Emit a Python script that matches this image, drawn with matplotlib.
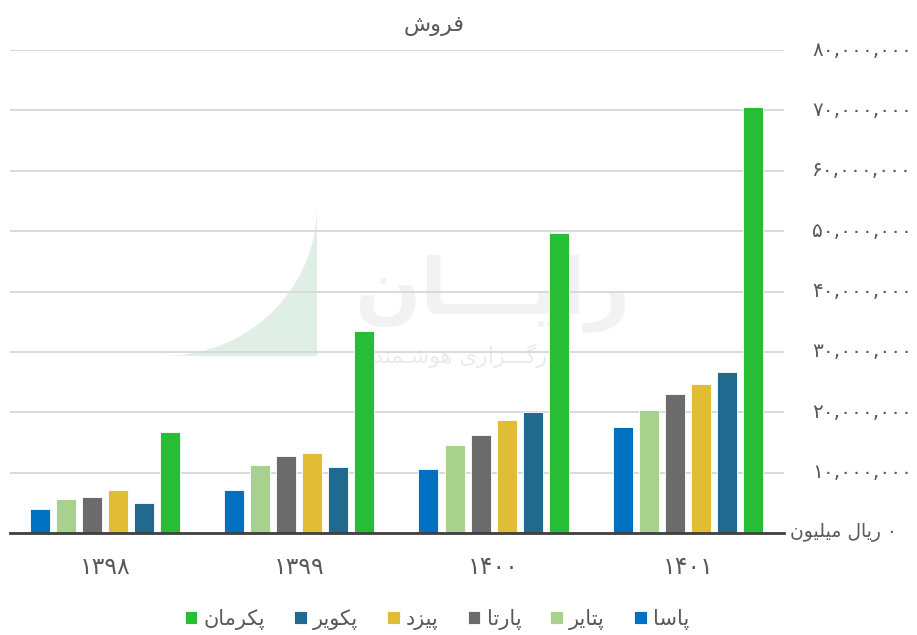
import numpy as np
import matplotlib
matplotlib.use('Agg')
import matplotlib.pyplot as plt
from matplotlib.transforms import blended_transform_factory

# data (values in rials)
years = ['۱۳۹۸', '۱۳۹۹', '۱۴۰۰', '۱۴۰۱']
series = ['پاسا', 'پتایر', 'پارتا', 'پیزد', 'پکویر', 'پکرمان']
pasa = [3.9e6, 7.2e6, 10.6e6, 17.6e6]
petayer = [5.7e6, 11.3e6, 14.5e6, 20.4e6]
parta = [6.0e6, 12.7e6, 16.2e6, 23.1e6]
peyazd = [7.2e6, 13.2e6, 18.7e6, 24.6e6]
pekavir = [4.9e6, 10.9e6, 20.0e6, 26.6e6]
pekerman = [16.8e6, 33.5e6, 49.7e6, 70.6e6]
values = [pasa, petayer, parta, peyazd, pekavir, pekerman]
colors = ['#0070C0', '#A9D18E', '#6B6B6E', '#E1BD36', '#216A8F', '#27BE35']
yticks = [0, 10e6, 20e6, 30e6, 40e6, 50e6, 60e6, 70e6, 80e6]

# matplotlib has no arabic shaping, so do it by hand
forms = {
    'ا': ('\uFE8D', '\uFE8E', None, None),
    'د': ('\uFEA9', '\uFEAA', None, None),
    'ر': ('\uFEAD', '\uFEAE', None, None),
    'ز': ('\uFEAF', '\uFEB0', None, None),
    'و': ('\uFEED', '\uFEEE', None, None),
    'پ': ('\uFB56', '\uFB57', '\uFB58', '\uFB59'),
    'ت': ('\uFE95', '\uFE96', '\uFE97', '\uFE98'),
    'س': ('\uFEB1', '\uFEB2', '\uFEB3', '\uFEB4'),
    'ش': ('\uFEB5', '\uFEB6', '\uFEB7', '\uFEB8'),
    'ف': ('\uFED1', '\uFED2', '\uFED3', '\uFED4'),
    'ک': ('\uFB8E', '\uFB8F', '\uFB90', '\uFB91'),
    'گ': ('\uFB92', '\uFB93', '\uFB94', '\uFB95'),
    'ل': ('\uFEDD', '\uFEDE', '\uFEDF', '\uFEE0'),
    'م': ('\uFEE1', '\uFEE2', '\uFEE3', '\uFEE4'),
    'ن': ('\uFEE5', '\uFEE6', '\uFEE7', '\uFEE8'),
    'ه': ('\uFEE9', '\uFEEA', '\uFEEB', '\uFEEC'),
    'ی': ('\uFBFC', '\uFBFD', '\uFBFE', '\uFBFF'),
    'ـ': ('\u0640', '\u0640', '\u0640', '\u0640'),
}


def fa(text):
    out = []
    n = len(text)
    for i, c in enumerate(text):
        f = forms.get(c)
        if f is None:
            out.append(c)
            continue
        prev = i > 0 and text[i - 1] in forms and forms[text[i - 1]][2] is not None
        nxt = i < n - 1 and text[i + 1] in forms and f[2] is not None
        if prev and nxt:
            out.append(f[3])
        elif prev:
            out.append(f[1])
        elif nxt:
            out.append(f[2])
        else:
            out.append(f[0])
    return ''.join(reversed(out))


def fa_num(v):
    s = '{:,}'.format(int(v))
    return s.translate(str.maketrans('0123456789', '۰۱۲۳۴۵۶۷۸۹'))


plt.rcParams['font.family'] = ['DejaVu Sans']
txt = '#595959'

fig = plt.figure(figsize=(9.17, 6.35), dpi=100)
ax = fig.add_axes([10 / 917, 102 / 635, 774 / 917, 483 / 635])
ax.patch.set_alpha(0)
ax.set_axisbelow(True)

# faint watermark logo behind the chart
th = np.linspace(0, np.pi / 2, 60)
wx = np.concatenate([164 + 153 * np.sin(th), [317, 164]]) / 917
wy = 1 - np.concatenate([206 + 150 * np.cos(th), [356, 356]]) / 635
ax.fill(wx, wy, transform=fig.transFigure, color='#DFEFE5', zorder=0.1,
        linewidth=0)
ax.text(492 / 917, 1 - 294 / 635, fa('رایـــان'), transform=fig.transFigure,
        ha='center', va='center', fontsize=56, fontweight='bold',
        color='#F2F2F2', zorder=0.1)
ax.text(472 / 917, 1 - 356 / 635, fa('کـارگـــزاری هوشـمند'),
        transform=fig.transFigure, ha='center', va='center', fontsize=16,
        color='#EBEBEB', zorder=0.1)

x = np.arange(len(years))
w = 0.103
step = 0.134
bars = []
for i, vals in enumerate(values):
    b = ax.bar(x + (i - 2.5) * step, vals, w, color=colors[i],
               edgecolor='white', linewidth=0.6, zorder=3)
    bars.append(b)

ax.set_ylim(0, 80e6)
ax.set_xlim(-0.489, 3.495)
ax.set_yticks(yticks)
ax.yaxis.grid(True, color='#d9d9d9', linewidth=1.4)
ax.tick_params(axis='both', length=0)
ax.set_yticklabels([])
ax.set_xticks(x)
ax.set_xticklabels(years, fontsize=17, color=txt)
ax.tick_params(axis='x', pad=16)
for s in ['top', 'left', 'right']:
    ax.spines[s].set_visible(False)
ax.spines['bottom'].set_color('#3f3f3f')
ax.spines['bottom'].set_linewidth(2)
ax.spines['bottom'].set_zorder(4)

# y tick labels on the right, RTL style
tr = blended_transform_factory(fig.transFigure, ax.transData)
for v in yticks:
    if v == 0:
        lab = fa('میلیون') + ' ' + fa('ریال') + ' ' + fa_num(0)
        ax.text(790 / 917, v, lab, transform=tr, ha='left', va='center',
                fontsize=13.5, color=txt)
    else:
        ax.text(812 / 917, v, fa_num(v), transform=tr, ha='left', va='center',
                fontsize=14.5, color=txt)

fig.text(434 / 917, 1 - 26 / 635, fa('فروش'), ha='center', va='center',
         fontsize=16, color=txt)

leg = fig.legend(bars[::-1], [fa(s) for s in series[::-1]], loc='center',
                 bbox_to_anchor=(437 / 917, 1 - 619 / 635), ncol=6,
                 frameon=False, fontsize=15,
                 handlelength=0.6, handleheight=0.6, handletextpad=0.3,
                 columnspacing=1.4, labelcolor=txt)

fig.savefig('out.png', dpi=100)
